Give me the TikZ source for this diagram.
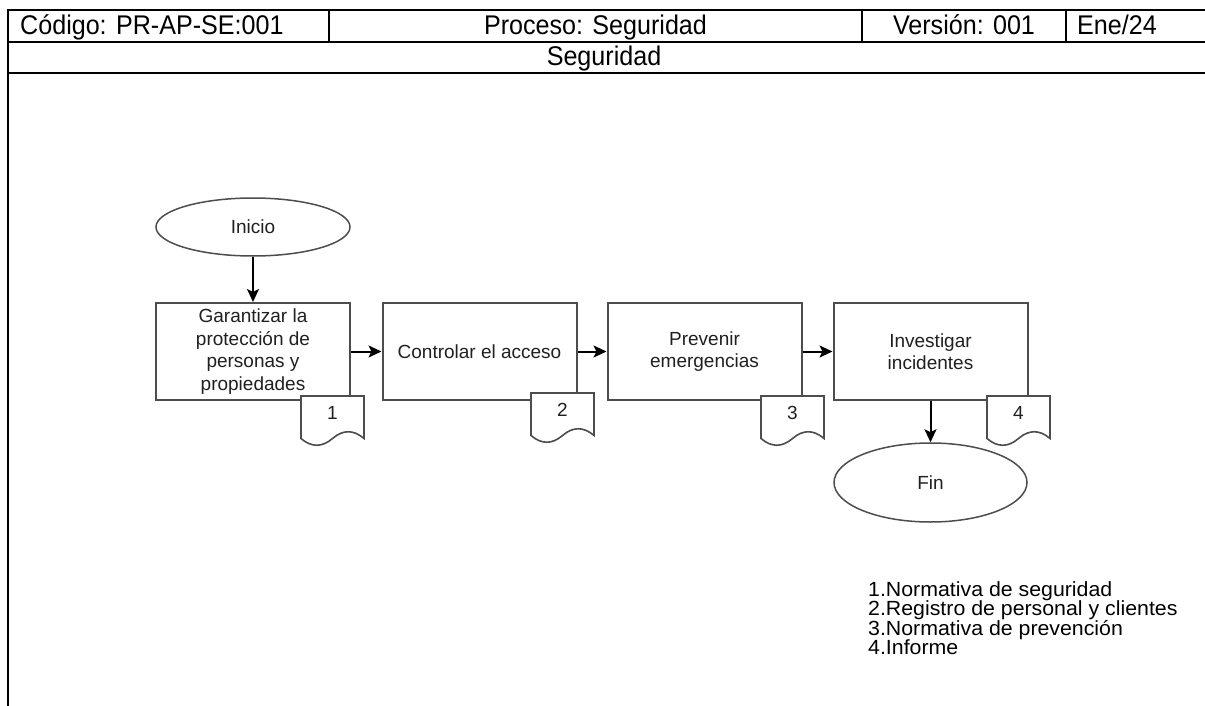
\documentclass[tikz,border=0pt]{standalone}
\usepackage{fontspec}
\setmainfont{Liberation Sans}
\newfontfamily\legendfont[FakeStretch=1.04]{Liberation Sans}
\newfontfamily\headfont[FakeStretch=0.93]{Liberation Sans}
\usetikzlibrary{arrows.meta,shapes.geometric}
\definecolor{boxgray}{HTML}{4D4D4D}
\definecolor{txt}{HTML}{202020}
\newcommand\docsh[4]{%
  \draw[docline] (#2,#3) -- ({#2+63},#3) -- ({#2+63},{#3+42.5})
    .. controls ({#2+52.5},{#3+33.5}) and ({#2+42},{#3+33.5}) .. ({#2+31.5},{#3+42.5})
    .. controls ({#2+21},{#3+51.5}) and ({#2+10.5},{#3+51.5}) .. (#2,{#3+42.5}) -- cycle;
  \node[docnum] (#1) at ({#2+31.5},{#3+17}) {#4};}
\begin{document}
\begin{tikzpicture}[x=1pt,y=-1pt,
  hline/.style={line width=2.6pt, black},
  vline/.style={line width=2pt, black},
  hdr/.style={font=\headfont\fontsize{27}{30}\selectfont, inner sep=0pt, anchor=base},
  proc/.style={rectangle, draw=boxgray, line width=2pt, fill=white,
    minimum width=194pt, minimum height=97pt, inner sep=0pt, align=center,
    font=\fontsize{19}{22.5}\selectfont, text=txt},
  term/.style={ellipse, draw=boxgray, line width=1.5pt, fill=white, inner sep=0pt,
    font=\fontsize{19}{22.5}\selectfont, text=txt},
  docline/.style={draw=boxgray, line width=1.6pt, fill=white},
  docnum/.style={font=\fontsize{19}{22.5}\selectfont, inner sep=0pt, text=txt},
  flow/.style={line width=2pt, black, -{Stealth[length=13pt,width=12pt,inset=3pt]}}
]
\useasboundingbox (0,0) rectangle (1205,706);
% header table
\draw[hline] (7,10) -- (1205,10);
\draw[hline] (7,42) -- (1205,42);
\draw[hline] (7,73) -- (1205,73);
\draw[vline] (8,9) -- (8,706);
\draw[vline] (329,10) -- (329,42);
\draw[vline] (862,10) -- (862,42);
\draw[vline] (1066,10) -- (1066,42);
\node[hdr, anchor=base west] (code) at (20,35) {Código: PR-AP-SE:001};
\node[hdr] (proc) at (595.5,35) {Proceso: Seguridad};
\node[hdr] (ver) at (964,35) {Versión: 001};
\node[hdr, anchor=base west] (date) at (1077,35) {Ene/24};
\node[hdr] (title) at (604,66) {Seguridad};
% flow
\node[term, minimum width=194pt, minimum height=58pt] (ini) at (253,227) {Inicio};
\node[proc] (b1) at (253,351.5) {Garantizar la\\protección de\\personas y\\propiedades};
\node[proc] (b2) at (479.5,351.5) {Controlar el acceso};
\node[proc] (b3) at (704.5,351.5) {Prevenir\\emergencias};
\node[proc] (b4) at (930.5,351.5) {Investigar\\incidentes};
\node[term, minimum width=193pt, minimum height=79pt] (fin) at (930.5,482.5) {Fin};
\docsh{d1}{301}{396}{1}
\docsh{d2}{531}{393}{2}
\docsh{d3}{761}{396}{3}
\docsh{d4}{987}{396}{4}
\draw[flow] (ini.south) -- (b1.north);
\draw[flow] (b1.east) -- (b2.west);
\draw[flow] (b2.east) -- (b3.west);
\draw[flow] (b3.east) -- (b4.west);
\draw[flow] (b4.south) -- (fin.north);
% legend
\node[anchor=north west, align=left, inner sep=0pt, text=black,
  font=\legendfont\fontsize{20.5}{19.5}\selectfont] (leg) at (868,581)
  {1.Normativa de seguridad\\2.Registro de personal y clientes\\3.Normativa de prevención\\4.Informe};
\end{tikzpicture}
\end{document}
